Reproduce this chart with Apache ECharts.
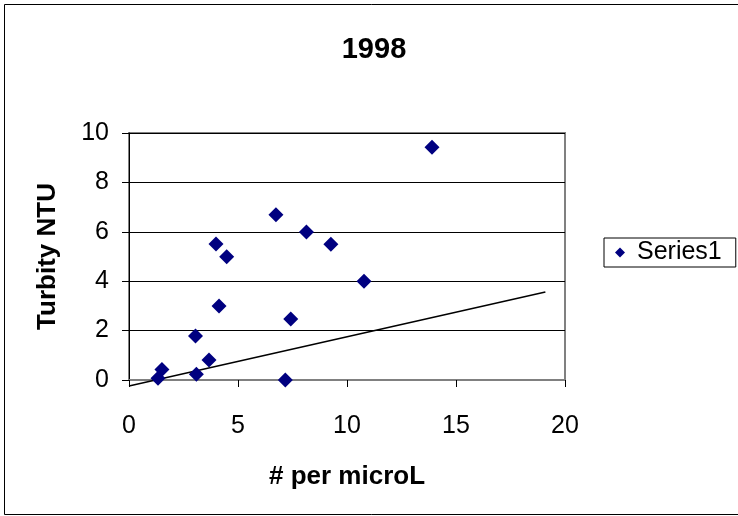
<!DOCTYPE html>
<html>
<head>
<meta charset="utf-8">
<script src="https://cdn.jsdelivr.net/npm/echarts@6/dist/echarts.min.js"></script>
<style>
html,body{margin:0;padding:0;background:#fff;}
#c{width:738px;height:516px;}
</style>
</head>
<body>
<div id="c"></div>
<script>
var titleText = '1998';
var xName = '# per microL';
var yName = 'Turbity NTU';
var seriesName = 'Series1';
var xValues = [1.33, 1.51, 3.05, 3.09, 3.67, 3.99, 4.13, 4.48, 6.74, 7.17, 7.42, 8.14, 9.26, 10.78, 13.9];
var yValues = [0.07, 0.43, 1.78, 0.23, 0.81, 5.51, 3.0, 4.99, 6.69, 0.0, 2.47, 5.99, 5.5, 4.0, 9.42];
var trendX = [0, 19.1];
var trendY = [-0.24, 3.56];

var font = 'Liberation Sans, Arial, sans-serif';
var pts = xValues.map(function (x, i) { return [x, yValues[i]]; });
var trend = trendX.map(function (x, i) { return [x, trendY[i]]; });

var chart = echarts.init(document.getElementById('c'), null, {renderer: 'canvas'});
chart.setOption({
  animation: false,
  backgroundColor: '#fff',
  title: {
    text: titleText,
    left: 374,
    top: 35,
    textAlign: 'center',
    padding: 0,
    textStyle: {fontFamily: font, fontSize: 29, fontWeight: 'bold', color: '#000'}
  },
  legend: {
    data: [seriesName],
    left: 604,
    top: 238,
    orient: 'vertical',
    borderColor: '#000',
    borderWidth: 1,
    padding: [2, 14, 2, 11],
    itemWidth: 10,
    itemHeight: 10,
    icon: 'diamond',
    itemStyle: {color: '#000080', opacity: 1},
    textStyle: {fontFamily: font, fontSize: 25, color: '#000', padding: [0, 0, 0, 7]}
  },
  graphic: [{
    type: 'rect',
    shape: {x: 4.5, y: 4.5, width: 740, height: 510},
    style: {fill: 'none', stroke: '#000', lineWidth: 1},
    silent: true
  }],
  grid: {
    left: 129, top: 133, right: 173, bottom: 136,
    show: true, borderColor: '#808080', borderWidth: 2, backgroundColor: 'transparent'
  },
  xAxis: {
    type: 'value', min: 0, max: 20, interval: 5,
    name: xName, nameLocation: 'middle', nameGap: 84,
    nameTextStyle: {fontFamily: font, fontSize: 26, fontWeight: 'bold', color: '#000'},
    axisLine: {show: true, onZero: false, lineStyle: {color: '#808080', width: 2}},
    axisTick: {show: true, inside: false, length: 7, lineStyle: {color: '#000'}},
    axisLabel: {fontFamily: font, fontSize: 25, color: '#000', margin: 34},
    splitLine: {show: false}
  },
  yAxis: {
    type: 'value', min: 0, max: 10, interval: 2,
    name: yName, nameLocation: 'middle', nameGap: 68, nameRotate: 90,
    nameTextStyle: {fontFamily: font, fontSize: 26, fontWeight: 'bold', color: '#000'},
    axisLine: {show: true, lineStyle: {color: '#000', width: 1}},
    axisTick: {show: true, inside: false, length: 7, lineStyle: {color: '#000'}},
    axisLabel: {fontFamily: font, fontSize: 25, color: '#000', margin: 20, padding: [6, 0, 0, 0]},
    splitLine: {show: true, lineStyle: {color: '#000', width: 1}}
  },
  series: [{
    name: seriesName,
    type: 'scatter',
    data: pts,
    symbol: 'diamond',
    symbolSize: 15,
    clip: false,
    itemStyle: {color: '#000080', opacity: 1}
  }, {
    name: 'trend',
    type: 'line',
    data: trend,
    symbol: 'none',
    clip: false,
    lineStyle: {color: '#000', width: 1.5},
    z: 1
  }]
});
</script>
</body>
</html>
